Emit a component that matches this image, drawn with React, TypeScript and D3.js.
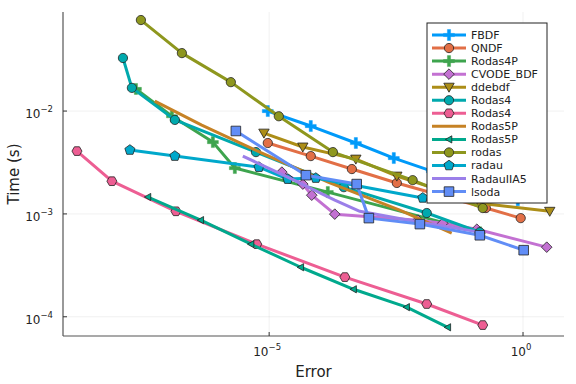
import * as d3 from "d3";
import React from "react";

// error / time pairs (log-log)
const fbdfErr = [9.4e-6, 6.6e-5, 5.1e-4, 2.85e-3, 1.6e-2, 0.112, 0.79];
const fbdfTime = [1.0e-2, 7.15e-3, 4.89e-3, 3.49e-3, 2.61e-3, 1.86e-3, 1.36e-3];

const qndfErr = [9.4e-6, 6.6e-5, 4.25e-4, 3.27e-3, 0.185, 0.9];
const qndfTime = [4.89e-3, 3.65e-3, 2.73e-3, 2.0e-3, 1.14e-3, 9.1e-4];

const rodas4pErr = [2.38e-8, 1.22e-7, 7.8e-7, 2.11e-6, 1.43e-4, 0.141];
const rodas4pTime = [1.64e-2, 8.9e-3, 4.99e-3, 2.79e-3, 1.63e-3, 6.65e-4];

const cvodeErr = [1.78e-5, 4.6e-5, 6.9e-5, 1.96e-4, 8.5e-3, 2.62e-2, 0.123, 2.93];
const cvodeTime = [2.55e-3, 1.95e-3, 1.52e-3, 9.95e-4, 8.7e-4, 8.1e-4, 7.1e-4, 4.75e-4];

const ddebdfErr = [7.9e-6, 4.6e-5, 5.1e-4, 3.27e-3, 0.141, 3.36];
const ddebdfTime = [6.1e-3, 4.47e-3, 3.41e-3, 2.33e-3, 1.27e-3, 1.06e-3];

const rodas4aErr = [1.32e-8, 1.98e-8, 1.39e-7, 5.5e-6, 2.95e-4, 1.27e-2, 0.141];
const rodas4aTime = [3.28e-2, 1.68e-2, 8.2e-3, 3.99e-3, 1.82e-3, 1.02e-3, 6.65e-4];

const rodas4bErr = [1.64e-9, 8.0e-9, 1.46e-7, 5.7e-6, 3.1e-4, 1.27e-2, 0.161];
const rodas4bTime = [4.08e-3, 2.08e-3, 1.06e-3, 5.08e-4, 2.43e-4, 1.33e-4, 8.3e-5];

const rodas5paErr = [5.6e-8, 4.7e-7, 7.2e-6, 1.57e-4, 3.74e-3, 3.94e-2];
const rodas5paTime = [1.25e-2, 7.3e-3, 3.9e-3, 2.0e-3, 1.09e-3, 6.5e-4];

const rodas5pbErr = [4.1e-8, 4.5e-7, 4.4e-6, 4.2e-5, 4.6e-4, 5.1e-3, 3.3e-2];
const rodas5pbTime = [1.46e-3, 8.7e-4, 5.08e-4, 3.03e-4, 1.85e-4, 1.24e-4, 7.9e-5];

const rodasErr = [2.98e-8, 1.91e-7, 1.76e-6, 1.55e-5, 1.8e-4, 6.7e-3, 0.161];
const rodasTime = [7.67e-2, 3.66e-2, 1.91e-2, 8.9e-3, 3.99e-3, 2.13e-3, 1.14e-3];

const radauErr = [1.81e-8, 1.39e-7, 6.3e-6, 2.33e-5, 8.3e-5, 1.06e-2];
const radauTime = [4.18e-3, 3.65e-3, 2.85e-3, 2.18e-3, 2.23e-3, 1.43e-3];

const radauIIA5Err = [3.03e-6, 2.55e-5, 1.96e-4, 6.1e-4, 9.3e-3, 0.141];
const radauIIA5Time = [3.65e-3, 2.23e-3, 1.36e-3, 1.06e-3, 8.3e-4, 6.65e-4];

const lsodaErr = [2.21e-6, 5.3e-5, 5.3e-4, 9.2e-4, 9.3e-3, 0.141, 1.03];
const lsodaTime = [6.4e-3, 2.38e-3, 1.95e-3, 9.1e-4, 7.96e-4, 6.2e-4, 4.44e-4];

const xTicks = [1e-5, 1e0];
const yTicks = [1e-2, 1e-3, 1e-4];

type Marker = "cross" | "circle" | "diamond" | "dtriangle" | "ltriangle" | "hexagon" | "pentagon" | "square" | "none";

const series: { name: string; color: string; marker: Marker; err: number[]; time: number[] }[] = [
  { name: "FBDF", color: "#009AF9", marker: "cross", err: fbdfErr, time: fbdfTime },
  { name: "QNDF", color: "#E26F46", marker: "circle", err: qndfErr, time: qndfTime },
  { name: "Rodas4P", color: "#3EA44E", marker: "cross", err: rodas4pErr, time: rodas4pTime },
  { name: "CVODE_BDF", color: "#C371D2", marker: "diamond", err: cvodeErr, time: cvodeTime },
  { name: "ddebdf", color: "#AC8E18", marker: "dtriangle", err: ddebdfErr, time: ddebdfTime },
  { name: "Rodas4", color: "#00A9AD", marker: "circle", err: rodas4aErr, time: rodas4aTime },
  { name: "Rodas4", color: "#ED5E93", marker: "hexagon", err: rodas4bErr, time: rodas4bTime },
  { name: "Rodas5P", color: "#C68225", marker: "none", err: rodas5paErr, time: rodas5paTime },
  { name: "Rodas5P", color: "#00A98D", marker: "ltriangle", err: rodas5pbErr, time: rodas5pbTime },
  { name: "rodas", color: "#8E971E", marker: "circle", err: rodasErr, time: rodasTime },
  { name: "radau", color: "#00A8CB", marker: "pentagon", err: radauErr, time: radauTime },
  { name: "RadauIIA5", color: "#9B7FE9", marker: "none", err: radauIIA5Err, time: radauIIA5Time },
  { name: "lsoda", color: "#618DF6", marker: "square", err: lsodaErr, time: lsodaTime },
];

const W = 576;
const H = 384;
const margin = { top: 12, right: 12, bottom: 48, left: 63 };

function poly(n: number, r: number, rot: number) {
  const pts = d3.range(n).map((i) => {
    const a = rot + (i * 2 * Math.PI) / n;
    return [r * Math.cos(a), r * Math.sin(a)];
  });
  return "M" + pts.map((p) => p[0].toFixed(2) + "," + p[1].toFixed(2)).join("L") + "Z";
}

function markerPath(m: Marker) {
  switch (m) {
    case "circle":
      return poly(24, 4.6, 0);
    case "hexagon":
      return poly(6, 5, 0);
    case "pentagon":
      return poly(5, 5.3, -Math.PI / 2);
    case "diamond":
      return poly(4, 5.3, -Math.PI / 2);
    case "square":
      return "M-4.8,-4.8L4.8,-4.8L4.8,4.8L-4.8,4.8Z";
    case "dtriangle":
      return "M-5.2,-4L5.2,-4L0,5Z";
    case "ltriangle":
      return "M-3.6,0L2.8,-3.6L2.8,3.6Z";
    case "cross": {
      const a = 5.5, t = 1.6;
      return `M${-t},${-a}L${t},${-a}L${t},${-t}L${a},${-t}L${a},${t}L${t},${t}L${t},${a}L${-t},${a}L${-t},${t}L${-a},${t}L${-a},${-t}L${-t},${-t}Z`;
    }
    default:
      return "";
  }
}

function Marker({ m, color, x, y }: { m: Marker; color: string; x: number; y: number }) {
  if (m === "none") return null;
  const cross = m === "cross";
  return (
    <path
      d={markerPath(m)}
      transform={`translate(${x},${y})`}
      fill={color}
      stroke={cross ? color : "#222"}
      strokeWidth={cross ? 0.4 : 0.8}
    />
  );
}

function Pow10({ exp, x, y, anchor }: { exp: number; x: number; y: number; anchor: string }) {
  return (
    <text x={x} y={y} textAnchor={anchor} fontSize={12} fill="#222">
      10
      <tspan dy={-6} fontSize={8.5}>
        {exp === 0 ? "0" : "\u2212" + Math.abs(exp)}
      </tspan>
    </text>
  );
}

export default function App() {
  const x = d3
    .scaleLog()
    .domain([Math.pow(10, -9.06), Math.pow(10, 0.807)])
    .range([margin.left, W - margin.right]);
  const y = d3
    .scaleLog()
    .domain([Math.pow(10, -4.187), Math.pow(10, -1.037)])
    .range([H - margin.bottom, margin.top]);

  const line = d3
    .line<[number, number]>()
    .x((d) => x(d[0]))
    .y((d) => y(d[1]));

  const plotBottom = H - margin.bottom;
  const legX = 427;
  const legY = 23;
  const rowH = 13.05;

  return (
    <svg
      width={W}
      height={H}
      viewBox={`0 0 ${W} ${H}`}
      style={{ position: "absolute", left: 0, top: 0, background: "#fff" }}
      fontFamily="DejaVu Sans, sans-serif"
    >
      <rect width={W} height={H} fill="#fff" />
      {/* grid */}
      {xTicks.map((t) => (
        <line key={"gx" + t} x1={x(t)} x2={x(t)} y1={margin.top} y2={plotBottom} stroke="#000" strokeOpacity={0.1} strokeWidth={0.6} />
      ))}
      {yTicks.map((t) => (
        <line key={"gy" + t} x1={margin.left} x2={W - margin.right} y1={y(t)} y2={y(t)} stroke="#000" strokeOpacity={0.1} strokeWidth={0.6} />
      ))}

      {/* series */}
      {series.map((s, i) => {
        const pts = s.err.map((e, j) => [e, s.time[j]] as [number, number]);
        return (
          <g key={"s" + i}>
            <path d={line(pts) ?? ""} fill="none" stroke={s.color} strokeWidth={3} strokeLinejoin="round" />
            {pts.map((p, j) => (
              <Marker key={j} m={s.marker} color={s.color} x={x(p[0])} y={y(p[1])} />
            ))}
          </g>
        );
      })}

      {/* axes */}
      <line x1={margin.left} x2={margin.left} y1={margin.top} y2={plotBottom} stroke="#555" strokeWidth={1.2} />
      <line x1={margin.left} x2={W - margin.right} y1={plotBottom} y2={plotBottom} stroke="#555" strokeWidth={1.2} />
      {xTicks.map((t) => (
        <g key={"tx" + t}>
          <line x1={x(t)} x2={x(t)} y1={plotBottom} y2={plotBottom - 4} stroke="#333" strokeWidth={1} />
          <Pow10 exp={Math.round(Math.log10(t))} x={x(t) - 2} y={356} anchor="middle" />
        </g>
      ))}
      {yTicks.map((t) => (
        <g key={"ty" + t}>
          <line x1={margin.left} x2={margin.left + 4} y1={y(t)} y2={y(t)} stroke="#333" strokeWidth={1} />
          <Pow10 exp={Math.round(Math.log10(t))} x={53} y={y(t) + 7} anchor="end" />
        </g>
      ))}
      <text x={(margin.left + W - margin.right) / 2} y={377} textAnchor="middle" fontSize={15} fill="#222">
        Error
      </text>
      <text transform={`translate(19,${(margin.top + plotBottom) / 2}) rotate(-90)`} textAnchor="middle" fontSize={15} fill="#222">
        Time (s)
      </text>

      {/* legend */}
      <rect x={legX} y={legY} width={120} height={180} fill="#fff" stroke="#222" strokeWidth={1} />
      {series.map((s, i) => {
        const cy = legY + 12 + i * rowH;
        return (
          <g key={"l" + i}>
            <line x1={legX + 5} x2={legX + 39} y1={cy} y2={cy} stroke={s.color} strokeWidth={3} />
            <Marker m={s.marker} color={s.color} x={legX + 22} y={cy} />
            <text x={legX + 44} y={cy} dy="0.36em" fontSize={11} fill="#222">
              {s.name}
            </text>
          </g>
        );
      })}
    </svg>
  );
}
